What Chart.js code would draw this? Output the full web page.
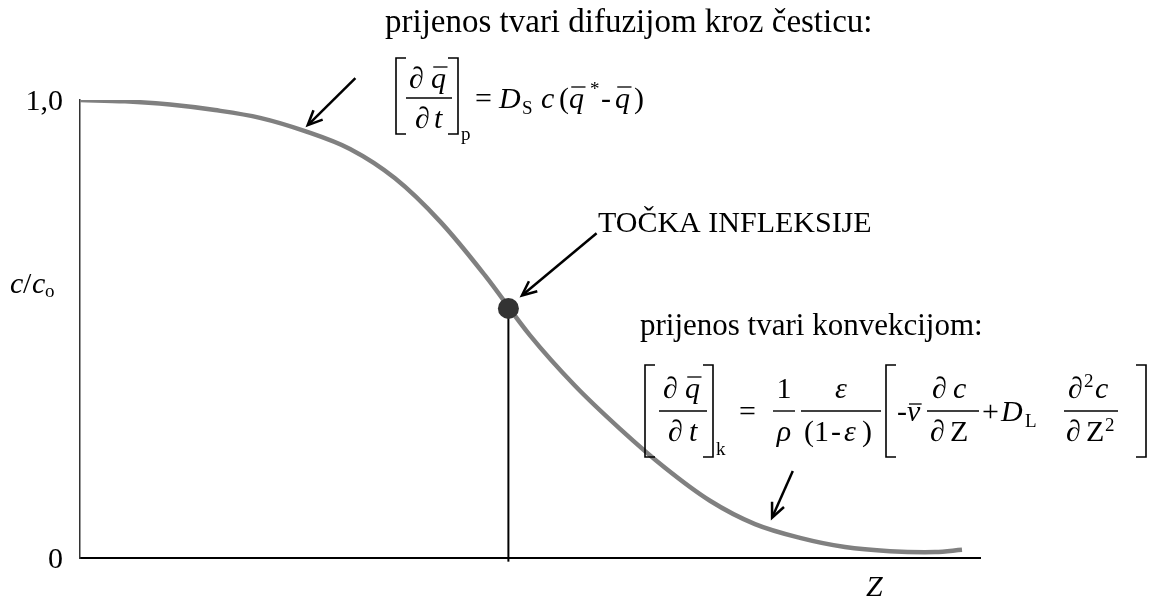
<!DOCTYPE html>
<html>
<head>
<meta charset="utf-8">
<script src="https://cdn.jsdelivr.net/npm/chart.js"></script>
<style>
  html, body { margin: 0; padding: 0; background: #fff; }
  #wrap { width: 1165px; height: 598px; }
</style>
</head>
<body>
<div id="wrap"><canvas id="breakthrough"></canvas></div>
<script>
// breakthrough curve, c/co against Z (Z in 0..100 of the axis length)
const zValues = [0, 5, 10, 15, 20, 25, 30, 35, 40, 45, 50, 55, 60, 65, 70, 75, 80, 85, 90, 95, 98]
const cValues = [1.000, 0.997, 0.990, 0.978, 0.961, 0.932, 0.893, 0.829, 0.735, 0.617, 0.486,
  0.376, 0.282, 0.197, 0.125, 0.074, 0.044, 0.024, 0.015, 0.013, 0.018]
const inflectionZ = 47.6
const inflectionC = 0.545
const yTickValues = [0, 1]
const yTickLabels = ['0', '1,0']

// arrows, [Z, c] of tail and tip
const arrowPoints = [
  { from: [30.6, 1.048], to: [25.3, 0.945] },
  { from: [57.4, 0.709], to: [49.1, 0.573] },
  { from: [79.2, 0.190], to: [76.9, 0.088] },
]

const SERIF = '"Liberation Serif", "Times New Roman", serif'
const font = (size, italic) => (italic ? 'italic ' : '') + size + 'px ' + SERIF
const R = font(30), I = font(30, true), S = font(19)

function arrow(ctx, x1, y1, x2, y2) {
  const a = Math.atan2(y2 - y1, x2 - x1)
  const h = 16, w = 0.42
  ctx.lineWidth = 2.5
  ctx.lineJoin = 'miter'
  ctx.beginPath()
  ctx.moveTo(x1, y1)
  ctx.lineTo(x2 - Math.cos(a) * 2, y2 - Math.sin(a) * 2)
  ctx.stroke()
  ctx.beginPath()
  ctx.moveTo(x2 - h * Math.cos(a - w), y2 - h * Math.sin(a - w))
  ctx.lineTo(x2, y2)
  ctx.lineTo(x2 - h * Math.cos(a + w), y2 - h * Math.sin(a + w))
  ctx.stroke()
}

function line(ctx, x1, y1, x2, y2, lw) {
  ctx.lineWidth = lw
  ctx.beginPath()
  ctx.moveTo(x1, y1)
  ctx.lineTo(x2, y2)
  ctx.stroke()
}

function bracket(ctx, x, top, bot, left) {
  const arm = left ? 10 : -10
  ctx.lineWidth = 1.6
  ctx.beginPath()
  ctx.moveTo(x + arm, top)
  ctx.lineTo(x, top)
  ctx.lineTo(x, bot)
  ctx.lineTo(x + arm, bot)
  ctx.stroke()
}

// glyph at x,y; bar = overbar height above baseline
function g(ctx, t, f, x, y, bar) {
  ctx.font = f
  ctx.fillText(t, x, y)
  if (bar) {
    const w = ctx.measureText(t).width
    line(ctx, x + w * 0.15, y - bar, x + w * 1.1, y - bar, 1.3)
  }
}

function gc(ctx, t, f, cx, y) {
  ctx.font = f
  ctx.fillText(t, cx - ctx.measureText(t).width / 2, y)
}

function formulaDiffusion(ctx) {
  bracket(ctx, 396, 58, 134, true)
  g(ctx, '\u2202', R, 409, 88)
  g(ctx, 'q', I, 431, 88, 21)
  line(ctx, 406, 98, 452, 98, 1.4)
  g(ctx, '\u2202', R, 415, 128)
  g(ctx, 't', I, 434, 128)
  bracket(ctx, 458, 58, 134, false)
  g(ctx, 'p', S, 461, 140)
  g(ctx, '=', R, 475, 108)
  g(ctx, 'D', I, 499, 108)
  g(ctx, 'S', S, 522, 114)
  g(ctx, 'c', I, 541, 108)
  g(ctx, '(', R, 559, 108)
  g(ctx, 'q', I, 569, 108, 21)
  g(ctx, '*', S, 590, 95)
  g(ctx, '-', R, 601, 108)
  g(ctx, 'q', I, 615, 108, 21)
  g(ctx, ')', R, 634, 108)
}

function formulaConvection(ctx) {
  const top = 365, bot = 457, y = 421, yn = 398, yd = 441, yb = 411
  bracket(ctx, 645, top, bot, true)
  g(ctx, '\u2202', R, 663, yn)
  g(ctx, 'q', I, 685, yn, 21)
  line(ctx, 659, yb, 707, yb, 1.4)
  g(ctx, '\u2202', R, 668, yd)
  g(ctx, 't', I, 689, yd)
  bracket(ctx, 713, top, bot, false)
  g(ctx, 'k', S, 716, 455)

  g(ctx, '=', R, 739, y)

  gc(ctx, '1', R, 784, yn)
  line(ctx, 773, yb, 795, yb, 1.4)
  gc(ctx, '\u03c1', I, 784, yd)

  gc(ctx, '\u03b5', I, 841, yn)
  line(ctx, 801, yb, 881, yb, 1.4)
  g(ctx, '(', R, 804, yd)
  g(ctx, '1', R, 814, yd)
  g(ctx, '-', R, 831, yd)
  g(ctx, '\u03b5', I, 844, yd)
  g(ctx, ')', R, 862, yd)

  bracket(ctx, 886, top, bot, true)
  g(ctx, '-', R, 897, y)
  g(ctx, 'v', I, 907, y, 17)

  g(ctx, '\u2202', R, 932, yn)
  g(ctx, 'c', I, 953, yn)
  line(ctx, 927, yb, 979, yb, 1.4)
  g(ctx, '\u2202', R, 930, yd)
  g(ctx, 'Z', R, 950, yd)

  g(ctx, '+', R, 982, y)
  g(ctx, 'D', I, 1001, y)
  g(ctx, 'L', S, 1025, y + 6)

  g(ctx, '\u2202', R, 1068, yn)
  g(ctx, '2', S, 1084, yn - 11)
  g(ctx, 'c', I, 1095, yn)
  line(ctx, 1064, yb, 1118, yb, 1.4)
  g(ctx, '\u2202', R, 1066, yd)
  g(ctx, 'Z', R, 1086, yd)
  g(ctx, '2', S, 1105, yd - 10)
  bracket(ctx, 1146, top, bot, false)
}

const annotations = {
  id: 'annotations',
  afterDraw(chart) {
    const ctx = chart.ctx
    const xs = chart.scales.x
    const ys = chart.scales.y
    ctx.save()
    ctx.fillStyle = '#000'
    ctx.strokeStyle = '#000'
    ctx.textBaseline = 'alphabetic'

    // tick labels
    ctx.font = R
    ctx.textAlign = 'right'
    yTickValues.forEach((v, i) => ctx.fillText(yTickLabels[i], xs.left - 17, ys.getPixelForValue(v) + 10))
    ctx.textAlign = 'left'

    // axis titles
    g(ctx, 'c', I, 10, 293)
    g(ctx, '/', R, 23, 293)
    g(ctx, 'c', I, 32, 293)
    g(ctx, 'o', S, 45, 297)
    g(ctx, 'Z', I, 866, 596)

    arrowPoints.forEach(a => arrow(ctx,
      xs.getPixelForValue(a.from[0]), ys.getPixelForValue(a.from[1]),
      xs.getPixelForValue(a.to[0]), ys.getPixelForValue(a.to[1])))

    ctx.font = font(33)
    ctx.fillText('prijenos tvari difuzijom kroz \u010desticu:', 385, 32)
    ctx.font = R
    ctx.fillText('TO\u010cKA INFLEKSIJE', 598, 232)
    ctx.font = font(31)
    ctx.fillText('prijenos tvari konvekcijom:', 640, 335)

    formulaDiffusion(ctx)
    formulaConvection(ctx)
    ctx.restore()
  },
}

const onPageLoad = () => {
  const curve = zValues.map((z, i) => ({ x: z, y: cValues[i] }))

  new Chart(document.getElementById('breakthrough'), {
    type: 'scatter',
    data: {
      datasets: [
        {
          label: 'inflection',
          data: [{ x: inflectionZ, y: inflectionC }],
          pointRadius: 10.5,
          pointBackgroundColor: '#333333',
          pointBorderWidth: 0,
        },
        {
          label: 'c/co',
          data: curve,
          showLine: true,
          borderColor: '#808080',
          borderWidth: 4.5,
          pointRadius: 0,
          tension: 0.35,
        },
        {
          label: 'drop',
          data: [{ x: inflectionZ, y: -0.008 }, { x: inflectionZ, y: inflectionC }],
          showLine: true,
          borderColor: '#000',
          borderWidth: 2,
          pointRadius: 0,
          clip: false,
        },
      ],
    },
    options: {
      responsive: true,
      maintainAspectRatio: false,
      animation: false,
      layout: { padding: { left: 72, right: 185, top: 100, bottom: 32 } },
      plugins: { legend: { display: false }, tooltip: { enabled: false } },
      scales: {
        x: {
          type: 'linear',
          min: 0,
          max: 100,
          grid: { display: false },
          ticks: { display: false },
          border: { display: true, color: '#000', width: 2 },
        },
        y: {
          min: 0,
          max: 1,
          grid: { display: false },
          ticks: { display: false },
          border: { display: true, color: '#333', width: 1.5 },
        },
      },
    },
    plugins: [annotations],
  })
}

document.addEventListener('DOMContentLoaded', onPageLoad)
</script>
</body>
</html>
